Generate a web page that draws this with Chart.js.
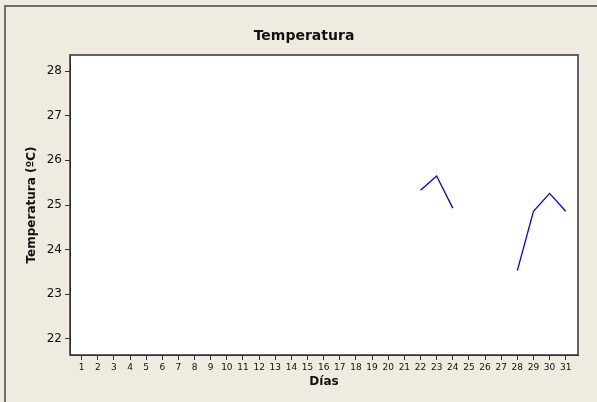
<!DOCTYPE html>
<html>
<head>
<meta charset="utf-8">
<script src="https://cdn.jsdelivr.net/npm/chart.js@4"></script>
<style>
  html, body { margin: 0; padding: 0; background: #efebe1; }
  #wrap { width: 597px; height: 402px; }
</style>
</head>
<body>
<div id="wrap"><canvas id="tempChart" width="597" height="402"></canvas></div>
<script>
var chartTitle = 'Temperatura';
var xTitle = 'Días';
var yTitle = 'Temperatura (ºC)';
var days = [1, 2, 3, 4, 5, 6, 7, 8, 9, 10, 11, 12, 13, 14, 15, 16, 17, 18, 19, 20, 21, 22, 23, 24, 25, 26, 27, 28, 29, 30, 31];
var temps = [null, null, null, null, null, null, null, null, null, null, null, null, null, null, null, null, null, null, null, null, null,
  25.33, 25.65, 24.93, null, null, null, 23.53, 24.86, 25.26, 24.86];
var yTicks = [22, 23, 24, 25, 26, 27, 28];

var points = days.map(function (d, i) { return { x: d, y: temps[i] }; });

// frame lines, plot border and the title
var decor = {
  id: 'decor',
  beforeDraw: function (chart) {
    var c = chart.ctx, a = chart.chartArea;
    c.save();
    c.fillStyle = '#ffffff';
    c.fillRect(a.left, a.top, a.right - a.left, a.bottom - a.top);
    c.strokeStyle = '#6e6e6e';
    c.lineWidth = 2;
    c.beginPath();
    c.moveTo(5, 402); c.lineTo(5, 6); c.lineTo(597, 6);
    c.stroke();
    c.restore();
  },
  afterDraw: function (chart) {
    var c = chart.ctx, a = chart.chartArea;
    c.save();
    c.strokeStyle = '#333333';
    c.lineWidth = 1.5;
    c.strokeRect(a.left, a.top, a.right - a.left, a.bottom - a.top);
    c.fillStyle = '#111111';
    c.font = 'bold 14px "DejaVu Sans"';
    c.textAlign = 'center';
    c.textBaseline = 'middle';
    c.fillText(chartTitle, 304, 36);
    c.restore();
  }
};

new Chart(document.getElementById('tempChart'), {
  type: 'line',
  data: {
    datasets: [{
      data: points,
      borderColor: '#0000ff',
      borderWidth: 1.3,
      pointRadius: 0,
      fill: false,
      spanGaps: false,
      tension: 0
    }]
  },
  options: {
    responsive: false,
    animation: false,
    layout: { padding: { left: 0, right: 19, top: 55, bottom: 0 } },
    plugins: {
      legend: { display: false },
      title: { display: false },
      tooltip: { enabled: false }
    },
    scales: {
      x: {
        type: 'linear',
        min: 0.28,
        max: 31.76,
        afterFit: function (s) { s.height = 47; },
        afterBuildTicks: function (s) { s.ticks = days.map(function (d) { return { value: d }; }); },
        ticks: {
          autoSkip: false, maxRotation: 0, padding: 2,
          color: '#111', font: { family: 'DejaVu Sans', size: 9 }
        },
        grid: { drawOnChartArea: false, tickLength: 5, tickColor: '#333', tickWidth: 1 },
        border: { color: '#333' },
        title: {
          display: true, text: xTitle, color: '#111',
          font: { family: 'DejaVu Sans', size: 12, weight: 'bold' },
          padding: { top: 13, bottom: 13 }
        }
      },
      y: {
        min: 21.64,
        max: 28.36,
        afterFit: function (s) { s.width = 70; },
        afterBuildTicks: function (s) { s.ticks = yTicks.map(function (v) { return { value: v }; }); },
        ticks: {
          padding: 3,
          color: '#111', font: { family: 'DejaVu Sans', size: 12 }
        },
        grid: { drawOnChartArea: false, tickLength: 5, tickColor: '#333', tickWidth: 1 },
        border: { color: '#333' },
        title: {
          display: true, text: yTitle, color: '#111',
          font: { family: 'DejaVu Sans', size: 12, weight: 'bold' },
          padding: { top: 25, bottom: 0 }
        }
      }
    }
  },
  plugins: [decor]
});
</script>
</body>
</html>
